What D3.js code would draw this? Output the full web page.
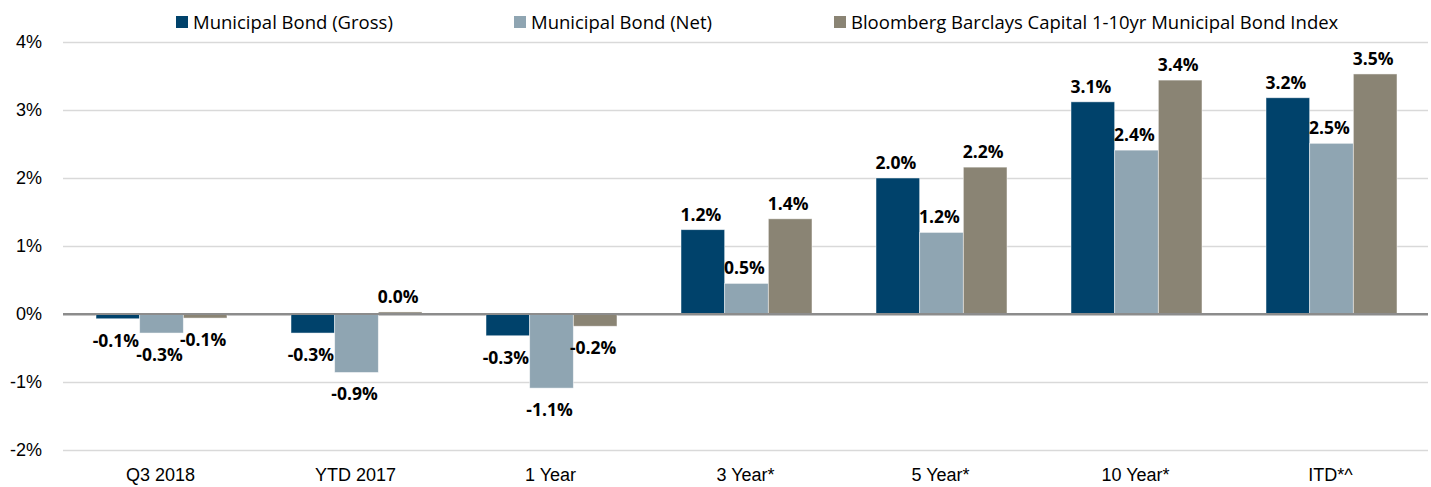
<!DOCTYPE html>
<html>
<head>
<meta charset="utf-8">
<script src="https://cdn.jsdelivr.net/npm/d3@7"></script>
<style>
  body { margin: 0; background: #fff; }
  svg { display: block; font-family: "Open Sans", "Noto Sans", sans-serif; }
</style>
</head>
<body>
<svg id="chart" width="1431" height="487"></svg>
<script>
const categories = ['Q3 2018', 'YTD 2017', '1 Year', '3 Year*', '5 Year*', '10 Year*', 'ITD*^'];
const seriesNames = ['Municipal Bond (Gross)', 'Municipal Bond (Net)', 'Bloomberg Barclays Capital 1-10yr Municipal Bond Index'];
const gross = [-0.07, -0.28, -0.32, 1.24, 2.0, 3.12, 3.18];
const net = [-0.28, -0.86, -1.09, 0.45, 1.2, 2.41, 2.51];
const index = [-0.06, 0.03, -0.18, 1.4, 2.16, 3.44, 3.53];
const yTicks = [-2, -1, 0, 1, 2, 3, 4];
const colors = ['#00426b', '#8fa5b2', '#8a8474'];

const svg = d3.select('#chart');
const margin = { top: 42, right: 3, bottom: 37, left: 63 };
const width = 1431 - margin.left - margin.right;
const height = 487 - margin.top - margin.bottom;

const g = svg.append('g').attr('transform', 'translate(' + margin.left + ',' + margin.top + ')');

const x0 = d3.scaleBand().domain(categories).range([0, width]).padding(0);
const x1 = d3.scaleBand().domain([0, 1, 2]).range([33, x0.bandwidth() - 31]).padding(0);
const y = d3.scaleLinear().domain([-2, 4]).range([408, 0]);

const pct = v => (v < 0 ? '-' : '') + Math.abs(v).toFixed(1) + '%';

// gridlines
g.append('g')
  .call(d3.axisLeft(y).tickValues(yTicks).tickSize(-width).tickFormat(d => (d < 0 ? '-' : '') + Math.abs(d) + '%'))
  .call(a => {
    a.select('.domain').remove();
    a.selectAll('.tick line').attr('stroke', d => d === 0 ? '#8c8c8c' : '#d9d9d9').attr('stroke-width', d => d === 0 ? 2 : 1.5);
    a.selectAll('.tick text').attr('x', -21).attr('fill', '#000').style('font-size', '18px');
  });

// x labels
g.append('g')
  .attr('transform', 'translate(0,' + height + ')')
  .call(d3.axisBottom(x0).tickSize(0))
  .call(a => {
    a.select('.domain').remove();
    a.selectAll('.tick text').attr('dy', 0).attr('y', 31).attr('fill', '#000').style('font-size', '18px');
  });

const rows = categories.map((c, i) => ({ cat: c, vals: [gross[i], net[i], index[i]] }));

const groups = g.selectAll('.grp').data(rows).enter().append('g')
  .attr('class', 'grp')
  .attr('transform', d => 'translate(' + x0(d.cat) + ',0)');

const bars = groups.selectAll('.bar').data(d => d.vals.map((v, k) => ({ v: v, k: k }))).enter();

bars.append('rect')
  .attr('x', d => x1(d.k))
  .attr('y', d => y(Math.max(0, d.v)))
  .attr('width', x1.bandwidth())
  .attr('height', d => Math.abs(y(d.v) - y(0)))
  .attr('fill', d => colors[d.k])
  .attr('stroke', 'rgba(255,255,255,0.6)')
  .attr('stroke-width', 0.8);

bars.append('text')
  .attr('x', d => x1(d.k) + x1.bandwidth() / 2 - 2)
  .attr('y', d => d.v >= 0 ? y(d.v) - 9 : y(d.v) + 28)
  .attr('text-anchor', 'middle')
  .style('font-size', '17.5px')
  .style('font-weight', 'bold')
  .attr('fill', '#000')
  .text(d => pct(d.v));

// redraw zero line on top
g.append('line')
  .attr('x1', 0).attr('x2', width)
  .attr('y1', y(0)).attr('y2', y(0))
  .attr('stroke', '#8c8c8c').attr('stroke-width', 2);

// legend
const legendX = [176, 514, 834];
const legend = svg.append('g').selectAll('g').data(seriesNames).enter().append('g')
  .attr('transform', (d, i) => 'translate(' + legendX[i] + ',16)');
legend.append('rect').attr('width', 12).attr('height', 12).attr('fill', (d, i) => colors[i]);
legend.append('text').attr('x', 17).attr('y', 13).style('font-size', '18.5px').attr('fill', '#000').text(d => d);
</script>
</body>
</html>
